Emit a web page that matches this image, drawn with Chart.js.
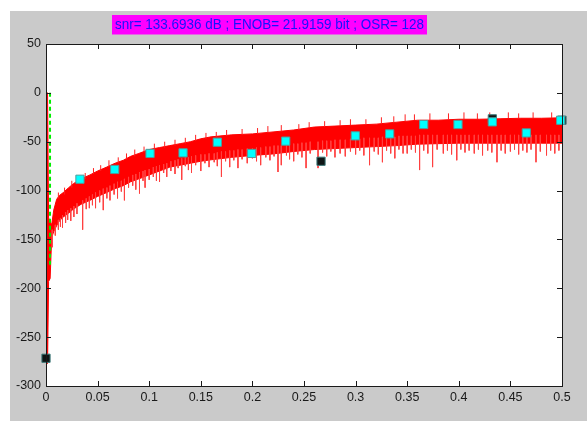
<!DOCTYPE html>
<html>
<head>
<meta charset="utf-8">
<script src="https://cdn.jsdelivr.net/npm/chart.js@4"></script>
<style>
  html, body { margin: 0; padding: 0; background: #fff; }
  #wrap { width: 587px; height: 421px; }
</style>
</head>
<body>
<div id="wrap"><canvas id="psd" width="587" height="421"></canvas></div>
<script>
// normalised frequency samples of the noise floor envelope
const freqs = [0, 0.0005, 0.0015, 0.0025, 0.004, 0.0055, 0.0075, 0.0103, 0.013, 0.0168, 0.022, 0.0265,
  0.034, 0.0426, 0.05, 0.0588, 0.067, 0.0749, 0.082, 0.09, 0.1, 0.11, 0.12, 0.13, 0.14, 0.15, 0.16,
  0.18, 0.2, 0.22, 0.24, 0.26, 0.28, 0.3, 0.32, 0.34, 0.36, 0.38, 0.4, 0.42, 0.44, 0.46, 0.48, 0.5];
const upperDb = [-272, 0, 0, -128, -132, -135, -120, -109, -105, -102, -97, -93,
  -88, -84, -80, -76, -72, -69, -65, -62, -58, -56, -54, -52, -50, -47, -45,
  -43, -42, -40, -38, -35, -34, -33, -32, -30, -28, -28, -27, -27, -26.5, -26, -26, -25.5];
const lowerDb = [-277, -277, -277, -193, -190, -148, -142, -136, -131, -127, -123, -119,
  -114, -110, -106, -102, -98, -95, -91, -88, -84, -80, -76, -74, -72, -70, -68.5,
  -66, -64, -62.5, -60, -58, -57, -56, -55, -54, -52.5, -52, -51.5, -51.5, -51.5, -51.5, -51.5, -51.5];

// single bins hanging below the floor: [freq, from dB, to dB]
const lowSpikeFreqs = [0.006, 0.009, 0.012, 0.014, 0.016, 0.019, 0.021, 0.024, 0.027, 0.030, 0.0355, 0.039,
  0.042, 0.045, 0.048, 0.052, 0.0555, 0.059, 0.062, 0.066, 0.0693, 0.073, 0.076, 0.080, 0.084, 0.087,
  0.0906, 0.094, 0.096, 0.100, 0.104, 0.107, 0.110, 0.114, 0.117, 0.121, 0.125, 0.128, 0.1315, 0.135,
  0.138, 0.141, 0.145, 0.150, 0.154, 0.158, 0.163, 0.166, 0.170, 0.174, 0.178, 0.182, 0.186, 0.190,
  0.195, 0.200, 0.204, 0.208, 0.213, 0.217, 0.221, 0.2248, 0.228, 0.233, 0.236, 0.240, 0.244, 0.248,
  0.252, 0.256, 0.2636, 0.268, 0.272, 0.276, 0.280, 0.285, 0.290, 0.295, 0.300, 0.304, 0.308, 0.3135,
  0.318, 0.322, 0.326, 0.330, 0.334, 0.338, 0.342, 0.346, 0.350, 0.354, 0.358, 0.362, 0.366, 0.370,
  0.3746, 0.379, 0.385, 0.389, 0.393, 0.398, 0.402, 0.406, 0.410, 0.415, 0.419, 0.423, 0.428, 0.432,
  0.437, 0.441, 0.445, 0.450, 0.454, 0.458, 0.462, 0.466, 0.470, 0.4748, 0.479, 0.485, 0.489, 0.493, 0.497];
const lowSpikeFromDb = [-140, -135, -130, -128, -125, -122, -120, -118, -116, -113, -110, -108,
  -106, -104, -102, -100, -98, -97, -95, -93, -91, -90, -88, -86, -84, -83,
  -81, -80, -79, -78, -76, -75, -74, -73, -72, -70, -69, -68, -67, -66,
  -66, -65, -64, -63, -63, -62, -62, -61, -60, -60, -59, -59, -58, -58,
  -57, -57, -56, -56, -55, -55, -54, -54, -54, -53, -53, -52, -52, -51,
  -51, -50, -50, -49, -49, -49, -48, -48, -48, -47, -47, -47, -46, -46,
  -46, -46, -45, -45, -45, -45, -44, -44, -44, -44, -44, -43, -43, -43,
  -43, -43, -43, -43, -43, -43, -43, -43, -43, -43, -43, -43, -43, -43,
  -43, -43, -43, -43, -43, -43, -43, -43, -43, -43, -43, -43, -43, -43, -43];
const lowSpikeToDb = [-158, -146, -140, -137, -138, -133, -130, -131, -127, -124, -140, -119,
  -118, -115, -118, -112, -120, -108, -110, -104, -108, -101, -110, -97, -95, -99,
  -103, -90, -97, -89, -86, -90, -91, -82, -86, -80, -83, -77, -89, -75,
  -79, -82, -74, -80, -72, -76, -71, -75, -86, -70, -76, -69, -77, -68,
  -72, -67, -70, -74, -66, -69, -65, -81, -74, -64, -68, -70, -63, -66,
  -77, -62, -77, -61, -65, -60, -66, -62, -65, -60, -63, -59, -64, -74,
  -60, -63, -71, -59, -62, -67, -58, -62, -62, -58, -61, -79, -59, -62,
  -76, -58, -62, -59, -63, -69, -58, -61, -59, -62, -58, -64, -59, -61,
  -71, -59, -62, -60, -58, -63, -59, -61, -58, -71, -60, -64, -59, -62, -59];

// ragged top of the floor
const highSpikeFreqs = [0.012, 0.018, 0.025, 0.031, 0.038, 0.046, 0.053, 0.061, 0.07, 0.078, 0.086, 0.095,
  0.105, 0.115, 0.125, 0.135, 0.145, 0.155, 0.165, 0.175, 0.19, 0.205, 0.215, 0.228, 0.245, 0.255,
  0.27, 0.285, 0.295, 0.31, 0.325, 0.337, 0.348, 0.357, 0.372, 0.39, 0.405, 0.418, 0.43, 0.448,
  0.458, 0.472, 0.49];
const highSpikeFromDb = [-108, -104, -97, -92, -88, -83, -80, -76, -72, -68, -65, -61,
  -58, -56, -54, -52, -49, -47, -45, -44, -43, -42, -41, -39, -38, -36,
  -35, -34, -33, -33, -32, -31, -29, -28, -28, -27, -27, -27, -26, -26,
  -26, -26, -26];
const highSpikeToDb = [-102, -97, -90, -86, -82, -77, -74, -69, -66, -62, -58, -55,
  -52, -50, -48, -46, -43, -41, -40, -38, -37, -36, -34, -33, -32, -30,
  -29, -28, -27, -27, -25, -24, -22, -22, -21, -21, -20, -21, -20, -20,
  -21, -20, -20];

// harmonic markers
const harmFreqs = [0.0329, 0.0666, 0.1008, 0.1328, 0.166, 0.1993, 0.2323, 0.2997, 0.333, 0.366, 0.3992, 0.4325, 0.4654, 0.4987];
const harmDb = [-88.4, -78.4, -62, -61.4, -50.5, -62, -49.4, -44, -42, -32.4, -32.4, -29.7, -41, -28];
const darkFreqs = [0, 0.2665, 0.4325, 0.5];
const darkDb = [-271.6, -70, -26.6, -28];

// signal bin marker line
const signalFreq = 0.0039;
const signalDb = [0, -178];

const xTicks = [0, 0.05, 0.1, 0.15, 0.2, 0.25, 0.3, 0.35, 0.4, 0.45, 0.5];
const yTicks = [50, 0, -50, -100, -150, -200, -250, -300];
const titleText = 'snr= 133.6936 dB ; ENOB= 21.9159 bit ; OSR= 128';

const pts = (xs, ys) => xs.map((x, i) => ({ x, y: ys[i] }));

function segments(fs, from, to) {
    const out = [];
    fs.forEach((f, i) => {
        out.push({ x: f, y: from[i] }, { x: f, y: to[i] }, { x: f, y: null });
    });
    return out;
}

const tickFont = { family: "'Liberation Sans', Arial, sans-serif", size: 12.5 };

// grey figure, white axes, box and inward ticks like the original
const frame = {
    id: 'frame',
    beforeDraw(chart) {
        const { ctx, chartArea: a } = chart;
        ctx.save();
        ctx.fillStyle = '#ffffff';
        ctx.fillRect(0, 0, chart.width, chart.height);
        ctx.fillStyle = '#cacaca';
        ctx.fillRect(10, 11, chart.width - 10, chart.height - 11);
        ctx.fillStyle = '#ffffff';
        ctx.fillRect(a.left, a.top, a.right - a.left, a.bottom - a.top);
        ctx.restore();
    },
    afterDraw(chart) {
        const { ctx, chartArea: a } = chart;
        const xs = chart.scales.x, ys = chart.scales.y;
        ctx.save();
        ctx.strokeStyle = '#1a1a1a';
        ctx.lineWidth = 1;
        ctx.beginPath();
        xTicks.forEach(v => {
            const px = Math.round(xs.getPixelForValue(v)) + 0.5;
            ctx.moveTo(px, a.bottom); ctx.lineTo(px, a.bottom - 5);
            ctx.moveTo(px, a.top); ctx.lineTo(px, a.top + 5);
        });
        yTicks.forEach(v => {
            const py = Math.round(ys.getPixelForValue(v)) + 0.5;
            ctx.moveTo(a.left, py); ctx.lineTo(a.left + 5, py);
            ctx.moveTo(a.right, py); ctx.lineTo(a.right - 5, py);
        });
        ctx.stroke();
        ctx.strokeRect(Math.round(a.left) + 0.5, Math.round(a.top) + 0.5,
            Math.round(a.right - a.left), Math.round(a.bottom - a.top));

        // title in magenta box; the original font is a narrow one
        ctx.fillStyle = '#ff00ff';
        ctx.fillRect(112, 15, 315, 19.5);
        ctx.font = "15px 'Liberation Sans', Arial, sans-serif";
        const w = ctx.measureText(titleText).width;
        ctx.translate(269.5, 25);
        ctx.scale(309 / w, 1);
        ctx.fillStyle = '#1414ff';
        ctx.textAlign = 'center';
        ctx.textBaseline = 'middle';
        ctx.fillText(titleText, 0, 0);
        ctx.restore();
    }
};

new Chart(document.getElementById('psd'), {
    type: 'line',
    data: {
        datasets: [
            {
                label: 'harmonics',
                data: pts(harmFreqs, harmDb),
                showLine: false,
                pointStyle: 'rect',
                pointRadius: 5.8,
                pointBackgroundColor: '#00ffff',
                pointBorderColor: '#4f9c9c',
                pointBorderWidth: 1,
                clip: false,
                order: 0
            },
            {
                label: 'dark',
                data: pts(darkFreqs, darkDb),
                showLine: false,
                pointStyle: 'rect',
                pointRadius: 5.8,
                pointBackgroundColor: '#0e1616',
                pointBorderColor: '#3d7a7a',
                pointBorderWidth: 1,
                clip: false,
                order: 1
            },
            {
                label: 'signal',
                data: signalDb.map(y => ({ x: signalFreq, y })),
                borderColor: '#00ee00',
                borderWidth: 2,
                borderDash: [4, 3],
                pointRadius: 0,
                order: 2
            },
            {
                label: 'low spikes',
                data: segments(lowSpikeFreqs, lowSpikeFromDb, lowSpikeToDb),
                borderColor: '#ff4040',
                borderWidth: 1,
                pointRadius: 0,
                spanGaps: false,
                order: 3
            },
            {
                label: 'high spikes',
                data: segments(highSpikeFreqs, highSpikeFromDb, highSpikeToDb),
                borderColor: '#ff2020',
                borderWidth: 1,
                pointRadius: 0,
                spanGaps: false,
                order: 3
            },
            {
                label: 'upper',
                data: pts(freqs, upperDb),
                borderColor: '#ff0000',
                borderWidth: 1,
                backgroundColor: '#ff0000',
                pointRadius: 0,
                fill: '+1',
                order: 4
            },
            {
                label: 'lower',
                data: pts(freqs, lowerDb),
                borderColor: '#ff0000',
                borderWidth: 1,
                pointRadius: 0,
                fill: false,
                order: 5
            }
        ]
    },
    options: {
        responsive: false,
        animation: false,
        devicePixelRatio: 1,
        layout: { padding: { left: 0, right: 25, top: 44, bottom: 0 } },
        plugins: {
            legend: { display: false },
            title: { display: false },
            tooltip: { enabled: false }
        },
        scales: {
            x: {
                type: 'linear',
                min: 0,
                max: 0.5,
                afterFit(scale) { scale.height = 35; },
                afterBuildTicks(scale) { scale.ticks = xTicks.map(v => ({ value: v })); },
                ticks: {
                    color: '#1a1a1a',
                    font: tickFont,
                    padding: 4,
                    maxRotation: 0,
                    autoSkip: false,
                    callback: v => String(+v.toFixed(2))
                },
                grid: { display: false, drawTicks: false },
                border: { display: false }
            },
            y: {
                type: 'linear',
                min: -300,
                max: 50,
                afterFit(scale) { scale.width = 46; },
                afterBuildTicks(scale) { scale.ticks = yTicks.map(v => ({ value: v })); },
                ticks: {
                    color: '#1a1a1a',
                    font: tickFont,
                    padding: 5,
                    autoSkip: false,
                    callback: v => String(v)
                },
                grid: { display: false, drawTicks: false },
                border: { display: false }
            }
        }
    },
    plugins: [frame]
});
</script>
</body>
</html>
